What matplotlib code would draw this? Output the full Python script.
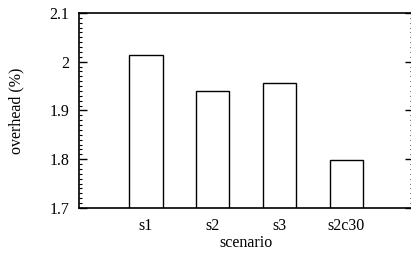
import matplotlib
matplotlib.use("Agg")
import matplotlib.pyplot as plt
from matplotlib.ticker import MultipleLocator

categories = ["s1", "s2", "s3", "s2c30"]
overhead = [2.014, 1.941, 1.956, 1.798]

plt.rcParams['font.family'] = ['Liberation Serif', 'DejaVu Serif']
plt.rcParams['font.size'] = 11.5

fig = plt.figure(figsize=(4.11, 2.62), dpi=100)
W, H = 411, 262
left, right, top, bottom = 79, 413, 13, 208
ax = fig.add_axes([left / W, 1 - bottom / H, (right - left) / W, (bottom - top) / H])

xs = list(range(1, len(categories) + 1))
ax.bar(xs, overhead, width=0.5, bottom=0, facecolor='white', edgecolor='black', linewidth=1.0)
ax.set_xlim(0, 5)
ax.set_ylim(1.7, 2.1)
ax.set_xticks(xs)
ax.set_xticklabels(categories)
ax.set_yticks([1.7, 1.8, 1.9, 2.0, 2.1])
ax.set_yticklabels(["1.7", "1.8", "1.9", "2", "2.1"])
ax.yaxis.set_minor_locator(MultipleLocator(0.01))
ax.tick_params(axis='x', length=0, pad=7)
ax.tick_params(axis='y', which='major', direction='in', length=5.5, width=1, left=True, right=True, pad=7)
ax.tick_params(axis='y', which='minor', direction='in', length=2.5, width=0.8, left=True, right=True)
for s in ax.spines.values():
    s.set_linewidth(1.2)
ax.set_xlabel("scenario", labelpad=1)
ax.set_ylabel("overhead (%)", labelpad=18)
fig.savefig("out.png", dpi=100)
